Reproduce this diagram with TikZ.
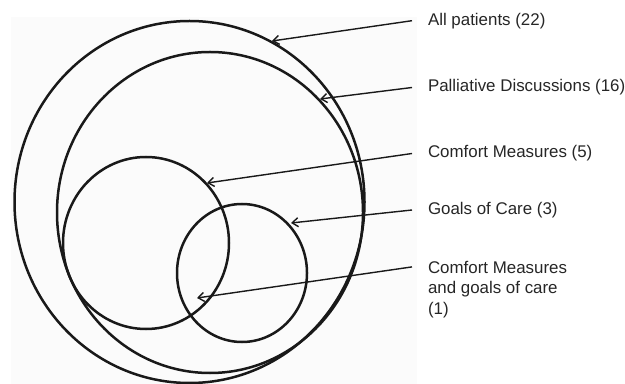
\documentclass[tikz,border=0pt]{standalone}
\usepackage{fontspec}
\setmainfont{Liberation Sans}
\usetikzlibrary{arrows.meta}
\tikzset{
  setline/.style={line width=1.25pt, black!90},
  pointer/.style={-{Straight Barb[length=3pt,width=4.5pt]}, line width=0.7pt, black!90},
  lbl/.style={anchor=west, inner xsep=7.8pt, inner ysep=0pt, align=left,
    font=\fontsize{8.45}{10.25}\selectfont, text=black!85}
}
\begin{document}
\begin{tikzpicture}[x=0.5pt, y=-0.5pt]
  \useasboundingbox (0,0) rectangle (625,384);
  \fill[black!1.5] (11,17) rectangle (417,384);
  \draw[setline] (189.5,202) ellipse [x radius=175, y radius=181];
  \draw[setline] (210,212.5) ellipse [x radius=153, y radius=160.5];
  \draw[setline] (146,243) ellipse [x radius=83, y radius=86];
  \draw[setline] (242,273) ellipse [x radius=65, y radius=69];
  \coordinate (all) at (272,41);
  \coordinate (pall) at (320,99);
  \coordinate (comf) at (207,183);
  \coordinate (goal) at (291,223);
  \coordinate (both) at (197,298);
  \node[lbl] (allL) at (412,20.7) {All patients (22)};
  \node[lbl] (pallL) at (412,87.5) {Palliative Discussions (16)};
  \node[lbl] (comfL) at (412,153.5) {Comfort Measures (5)};
  \node[lbl] (goalL) at (412,210) {Goals of Care (3)};
  \node[lbl, anchor=north west] (bothL) at (412,260.7) {Comfort Measures\\and goals of care\\(1)};
  \draw[pointer] (allL.west) -- (all);
  \draw[pointer] (pallL.west) -- (pall);
  \draw[pointer] (comfL.west) -- (comf);
  \draw[pointer] (goalL.west) -- (goal);
  \draw[pointer] ([yshift=-3.1pt]bothL.north west) -- (both);
\end{tikzpicture}
\end{document}
